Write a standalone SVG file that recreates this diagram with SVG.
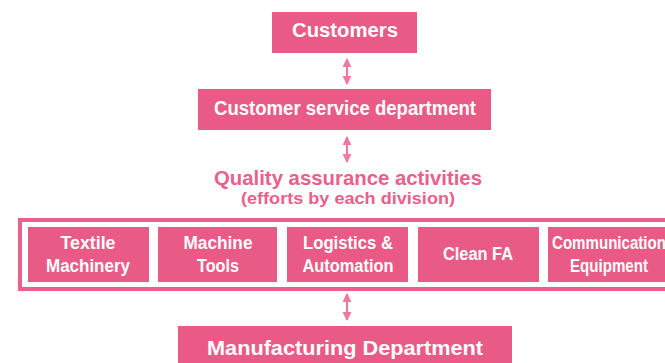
<svg xmlns="http://www.w3.org/2000/svg" width="665" height="363" viewBox="0 0 665 363">
<defs>
<style>
.box{fill:#E95B86}
.t{font-family:"Liberation Sans",Arial,sans-serif;font-weight:bold;fill:#fff;text-anchor:middle}
.b{font-size:18px}
.h{font-size:20px}
.q{font-family:"Liberation Sans",Arial,sans-serif;font-weight:bold;fill:#E9608C;text-anchor:middle}
.arr{stroke:#EE7AA0;stroke-width:2.2;fill:none;marker-start:url(#ah);marker-end:url(#ah)}
</style>
<marker id="ah" viewBox="0 0 10 10" refX="9" refY="5" markerWidth="9" markerHeight="9" markerUnits="userSpaceOnUse" orient="auto-start-reverse">
<path d="M0,0 L10,5 L0,10 z" fill="#EE7AA0"/>
</marker>
</defs>
<g id="connectors">
<line class="arr" x1="347" y1="59" x2="347" y2="84"/>
<line class="arr" x1="347" y1="137" x2="347" y2="162"/>
<line class="arr" x1="347" y1="294" x2="347" y2="320"/>
</g>
<g id="customers">
<rect class="box" x="272" y="12" width="145" height="41"/>
<text class="t h" x="345" y="37" textLength="106" lengthAdjust="spacingAndGlyphs">Customers</text>
</g>
<g id="customer-service">
<rect class="box" x="198" y="89" width="293" height="41"/>
<text class="t h" x="345" y="115" textLength="262" lengthAdjust="spacingAndGlyphs">Customer service department</text>
</g>
<g id="quality">
<text class="q" x="348" y="185" font-size="21" textLength="268" lengthAdjust="spacingAndGlyphs">Quality assurance activities</text>
<text class="q" x="348" y="204" font-size="17" textLength="214" lengthAdjust="spacingAndGlyphs">(efforts by each division)</text>
</g>
<g id="divisions-frame">
<rect x="20" y="220" width="660" height="69" fill="none" stroke="#E9608C" stroke-width="4"/>
</g>
<g id="textile">
<rect class="box" x="28" y="227" width="121" height="55"/>
<text class="t b" x="88" y="249" textLength="55" lengthAdjust="spacingAndGlyphs">Textile</text>
<text class="t b" x="88" y="272" textLength="84" lengthAdjust="spacingAndGlyphs">Machinery</text>
</g>
<g id="machine-tools">
<rect class="box" x="158" y="227" width="119" height="55"/>
<text class="t b" x="218" y="249" textLength="69" lengthAdjust="spacingAndGlyphs">Machine</text>
<text class="t b" x="218" y="272" textLength="42" lengthAdjust="spacingAndGlyphs">Tools</text>
</g>
<g id="logistics">
<rect class="box" x="287" y="227" width="121" height="55"/>
<text class="t b" x="348" y="249" textLength="90" lengthAdjust="spacingAndGlyphs">Logistics &amp;</text>
<text class="t b" x="348" y="272" textLength="91" lengthAdjust="spacingAndGlyphs">Automation</text>
</g>
<g id="clean-fa">
<rect class="box" x="418" y="227" width="121" height="55"/>
<text class="t b" x="478" y="260" textLength="70" lengthAdjust="spacingAndGlyphs">Clean FA</text>
</g>
<g id="communication">
<rect class="box" x="548" y="227" width="122" height="55"/>
<text class="t b" x="609" y="249" textLength="114" lengthAdjust="spacingAndGlyphs">Communication</text>
<text class="t b" x="609" y="272" textLength="78" lengthAdjust="spacingAndGlyphs">Equipment</text>
</g>
<g id="manufacturing">
<rect class="box" x="178" y="326" width="334" height="40"/>
<text class="t" font-size="21" x="345" y="355" textLength="276" lengthAdjust="spacingAndGlyphs">Manufacturing Department</text>
</g>
</svg>
